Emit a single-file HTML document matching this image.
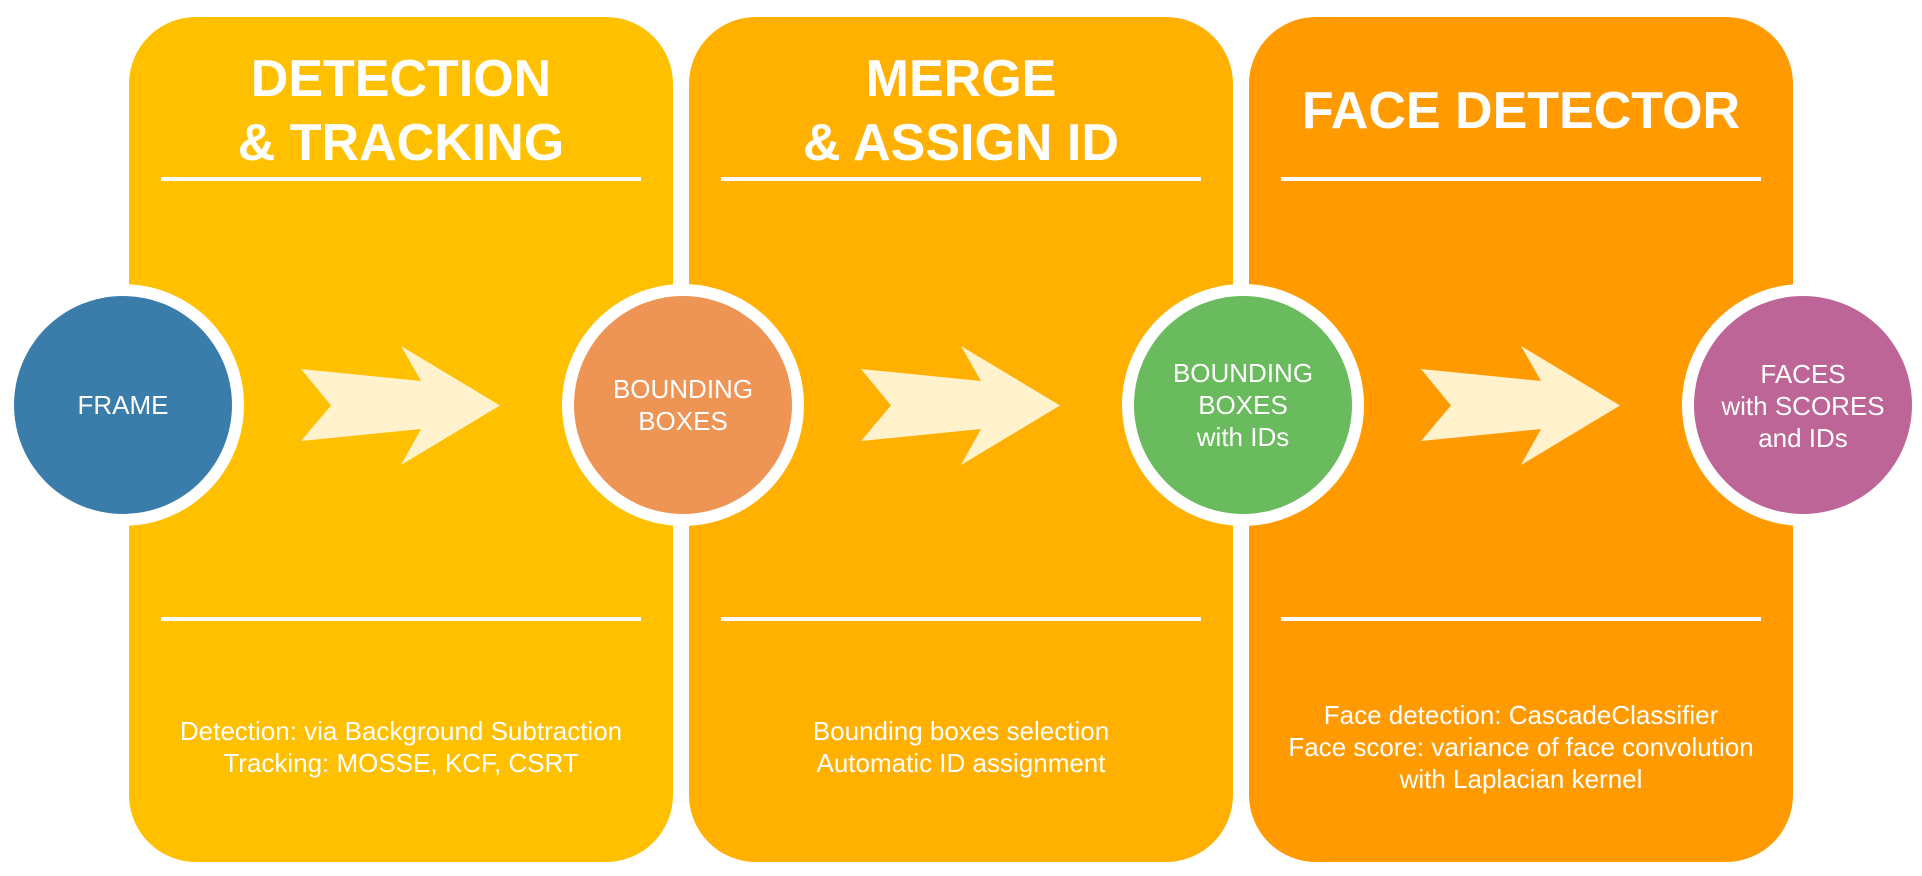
<!DOCTYPE html>
<html><head><meta charset="utf-8"><style>
html,body{margin:0;padding:0;background:#fff;}
svg{display:block;}
text{font-family:"Liberation Sans",Arial,sans-serif;fill:#fff;}
.t{font-weight:bold;font-size:52px;}
.c{font-size:26px;}
.b{font-size:26px;}
</style></head><body>
<svg width="1922" height="876" viewBox="0 0 1922 876" xmlns="http://www.w3.org/2000/svg">
<rect x="129" y="17" width="544" height="845" rx="67" fill="#FFC000"/>
<rect x="689" y="17" width="544" height="845" rx="67" fill="#FFB000"/>
<rect x="1249" y="17" width="544" height="845" rx="67" fill="#FF9A00"/>

<g fill="#fff">
<rect x="161" y="177" width="480" height="4"/><rect x="721" y="177" width="480" height="4"/><rect x="1281" y="177" width="480" height="4"/>
<rect x="161" y="617" width="480" height="4"/><rect x="721" y="617" width="480" height="4"/><rect x="1281" y="617" width="480" height="4"/>
</g>

<text class="t" x="401" y="96" text-anchor="middle">DETECTION</text>
<text class="t" x="401" y="160" text-anchor="middle">&amp; TRACKING</text>
<text class="t" x="961" y="96" text-anchor="middle">MERGE</text>
<text class="t" x="961" y="160" text-anchor="middle">&amp; ASSIGN ID</text>
<text class="t" x="1521" y="128" text-anchor="middle">FACE DETECTOR</text>

<g fill="#FFF2CC">
<polygon points="301,369 421,381 401,346 500,405.5 401,465 421,429 301,441 331,405.5"/>
<polygon points="861,369 981,381 961,346 1060,405.5 961,465 981,429 861,441 891,405.5"/>
<polygon points="1421,369 1541,381 1521,346 1620,405.5 1521,465 1541,429 1421,441 1451,405.5"/>
</g>

<g fill="#fff">
<circle cx="123" cy="405" r="121"/><circle cx="683" cy="405" r="121"/><circle cx="1243" cy="405" r="121"/><circle cx="1803" cy="405" r="121"/>
</g>
<circle cx="123" cy="405" r="109" fill="#3A7DAA"/>
<circle cx="683" cy="405" r="109" fill="#EE9455"/>
<circle cx="1243" cy="405" r="109" fill="#6ABA5E"/>
<circle cx="1803" cy="405" r="109" fill="#BE6598"/>

<text class="c" x="123" y="414" text-anchor="middle">FRAME</text>
<text class="c" x="683" y="398" text-anchor="middle">BOUNDING</text>
<text class="c" x="683" y="430" text-anchor="middle">BOXES</text>
<text class="c" x="1243" y="382" text-anchor="middle">BOUNDING</text>
<text class="c" x="1243" y="414" text-anchor="middle">BOXES</text>
<text class="c" x="1243" y="446" text-anchor="middle">with IDs</text>
<text class="c" x="1803" y="383" text-anchor="middle">FACES</text>
<text class="c" x="1803" y="415" text-anchor="middle">with SCORES</text>
<text class="c" x="1803" y="447" text-anchor="middle">and IDs</text>

<text class="b" x="401" y="740" text-anchor="middle">Detection: via Background Subtraction</text>
<text class="b" x="401" y="772" text-anchor="middle">Tracking: MOSSE, KCF, CSRT</text>
<text class="b" x="961" y="740" text-anchor="middle">Bounding boxes selection</text>
<text class="b" x="961" y="772" text-anchor="middle">Automatic ID assignment</text>
<text class="b" x="1521" y="724" text-anchor="middle">Face detection: CascadeClassifier</text>
<text class="b" x="1521" y="756" text-anchor="middle">Face score: variance of face convolution</text>
<text class="b" x="1521" y="788" text-anchor="middle">with Laplacian kernel</text>
</svg>
</body></html>
